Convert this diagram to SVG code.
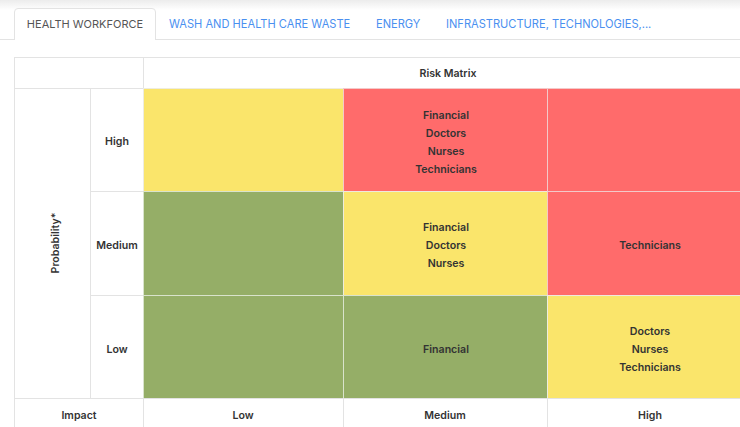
<svg xmlns="http://www.w3.org/2000/svg" width="740" height="427" viewBox="0 0 740 427">
<defs>
<linearGradient id="topg" x1="0" y1="0" x2="0" y2="1">
<stop offset="0" stop-color="#ececec"/>
<stop offset="1" stop-color="#ffffff"/>
</linearGradient>
</defs>
<style>
.tab{font-family:Inter,"Liberation Sans",sans-serif;font-size:11.1px;fill:#4a90f0}
.tabA{font-family:Inter,"Liberation Sans",sans-serif;font-size:11px;fill:#555}
.t{font-family:Inter,"Liberation Sans",sans-serif;font-size:10.6px;font-weight:600;fill:#333;text-anchor:middle}
.w{fill:#fff;stroke:#e3e3e3;stroke-width:1}
.y{fill:#fae56b;stroke:#eeeeee;stroke-width:1;stroke-opacity:.8}
.r{fill:#ff6b6b;stroke:#f3c9c9;stroke-width:1}
.g{fill:#95ae67;stroke:#d9e3cc;stroke-width:1}
</style>
<rect x="0" y="0" width="740" height="10" fill="url(#topg)"/>
<g id="tabs">
<line x1="0" y1="39.5" x2="740" y2="39.5" stroke="#e3e3e3"/>
<path d="M14.5 40 V12 Q14.5 8.5 18 8.5 H152 Q155.5 8.5 155.5 12 V40" fill="#fff" stroke="#e3e3e3"/>
<text class="tabA" x="85" y="28" text-anchor="middle">HEALTH WORKFORCE</text>
<text class="tab" x="169" y="28">WASH AND HEALTH CARE WASTE</text>
<text class="tab" x="376" y="28">ENERGY</text>
<text class="tab" x="446" y="28">INFRASTRUCTURE, TECHNOLOGIES,...</text>
</g>
<g id="header">
<rect class="w" x="14.5" y="57.5" width="129" height="31"/>
<rect class="w" x="143.5" y="57.5" width="610" height="31"/>
<text class="t" x="448" y="77">Risk Matrix</text>
</g>
<g id="probability">
<rect class="w" x="14.5" y="88.5" width="76" height="310"/>
<text class="t" transform="translate(59,243) rotate(-90)">Probability*</text>
</g>
<g id="rowlabels">
<rect class="w" x="90.5" y="88.5" width="53" height="103"/>
<text class="t" x="117" y="145">High</text>
<rect class="w" x="90.5" y="191.5" width="53" height="104"/>
<text class="t" x="117" y="249">Medium</text>
<rect class="w" x="90.5" y="295.5" width="53" height="103"/>
<text class="t" x="117" y="353">Low</text>
</g>
<g id="row-high">
<rect class="y" x="143.5" y="88.5" width="200" height="103"/>
<rect class="r" x="343.5" y="88.5" width="204" height="103"/>
<text class="t" x="446" y="119">Financial</text>
<text class="t" x="446" y="137">Doctors</text>
<text class="t" x="446" y="155">Nurses</text>
<text class="t" x="446" y="173">Technicians</text>
<rect class="r" x="547.5" y="88.5" width="206" height="103"/>
</g>
<g id="row-medium">
<rect class="g" x="143.5" y="191.5" width="200" height="104"/>
<rect class="y" x="343.5" y="191.5" width="204" height="104"/>
<text class="t" x="446" y="231">Financial</text>
<text class="t" x="446" y="249">Doctors</text>
<text class="t" x="446" y="267">Nurses</text>
<rect class="r" x="547.5" y="191.5" width="206" height="104"/>
<text class="t" x="650" y="249">Technicians</text>
</g>
<g id="row-low">
<rect class="g" x="143.5" y="295.5" width="200" height="103"/>
<rect class="g" x="343.5" y="295.5" width="204" height="103"/>
<text class="t" x="446" y="353">Financial</text>
<rect class="y" x="547.5" y="295.5" width="206" height="103"/>
<text class="t" x="650" y="335">Doctors</text>
<text class="t" x="650" y="353">Nurses</text>
<text class="t" x="650" y="371">Technicians</text>
</g>
<g id="impact">
<rect class="w" x="14.5" y="398.5" width="129" height="34"/>
<text class="t" x="79" y="419">Impact</text>
<rect class="w" x="143.5" y="398.5" width="200" height="34"/>
<text class="t" x="243" y="419">Low</text>
<rect class="w" x="343.5" y="398.5" width="204" height="34"/>
<text class="t" x="445" y="419">Medium</text>
<rect class="w" x="547.5" y="398.5" width="206" height="34"/>
<text class="t" x="650" y="419">High</text>
</g>
<g id="connectors"/>
</svg>
